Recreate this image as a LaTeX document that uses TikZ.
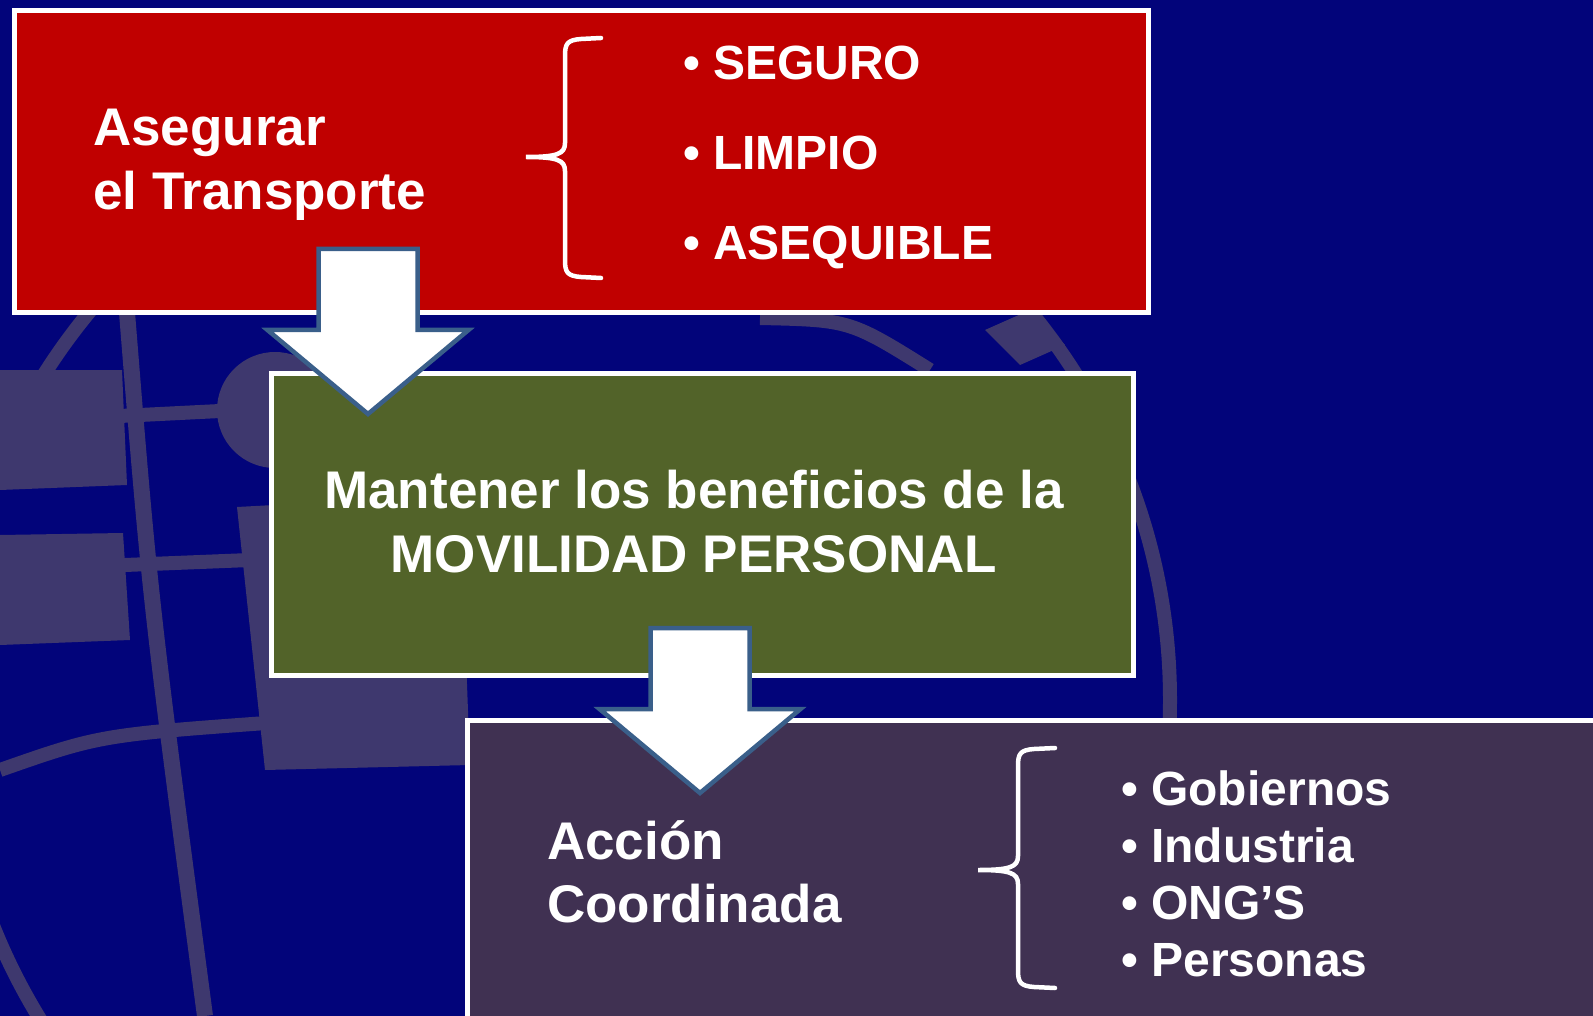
\documentclass[tikz,border=0pt]{standalone}
\usepackage{fontspec}
\setmainfont{Liberation Sans}
\usepackage{tikz}
\usetikzlibrary{calc}
\definecolor{fondo}{RGB}{2,4,122}
\definecolor{logo}{RGB}{62,56,110}
\definecolor{rojo}{RGB}{192,0,0}
\definecolor{oliva}{RGB}{82,99,41}
\definecolor{morado}{RGB}{64,49,82}
\definecolor{borde}{RGB}{58,95,138}
\tikzset{caja/.style={rectangle,draw=white,line width=5pt,anchor=north west,inner sep=0pt}}
\tikzset{flecha/.style={fill=white,draw=borde,line width=4.5pt}}
\tikzset{titulo/.style={text=white,inner sep=0pt,font=\fontsize{53}{64}\selectfont\bfseries}}
\tikzset{punto/.style={text=white,inner sep=0pt,anchor=base west,font=\fontsize{48}{57}\selectfont\bfseries}}
\tikzset{llave/.style={draw=white,line width=4.5pt,line cap=round}}

\begin{document}
\begin{tikzpicture}[x=1pt,y=-1pt]
\useasboundingbox (0,0) rectangle (1593,1016);
\clip (0,0) rectangle (1593,1016);
\fill[fondo] (0,0) rectangle (1593,1016);
% logo de fondo
\begin{scope}[logo]
\draw[line width=14pt] (560,700) circle (610pt);
\draw[line width=16pt] (126,300) .. controls (150,600) .. (205,1016);
\draw[line width=14pt] (0,422) -- (240,410);
\draw[line width=14pt] (0,570) -- (250,560);
\draw[line width=14pt] (0,770) .. controls (100,735) .. (280,722);
\fill (0,370) -- (122,370) -- (127,485) -- (0,490) -- cycle;
\fill (0,535) -- (123,533) -- (130,640) -- (0,645) -- cycle;
\fill (237,507) -- (460,495) -- (470,765) -- (265,770) -- cycle;
\fill (275,410) circle (58pt);
\draw[line width=14pt] (760,318) .. controls (850,320) .. (930,370);
\fill (985,330) -- (1030,310) -- (1065,345) -- (1020,365) -- cycle;
\end{scope}

% cajas
\node[caja,fill=rojo,minimum width=1134pt,minimum height=302pt] (asegurar) at (12,8) {};
\node[caja,fill=oliva,minimum width=862pt,minimum height=302pt] (mantener) at (269,371) {};
\node[caja,fill=morado,minimum width=1200pt,minimum height=400pt] (accion) at (465,718) {};

% flechas
\foreach \x/\y [count=\i] in {368/249, 700/628} {
	\coordinate (f\i) at (\x,\y);
	\draw[flecha] ($(f\i)+(-49.5,0)$) -- ++(0,81) -- ++(-51,0) -- ++(100.5,84) -- ++(100.5,-84) -- ++(-51,0) -- ++(0,-81) -- cycle;
}

% textos
\node[titulo,anchor=base west] (t1) at (93,146) {Asegurar};
\node[titulo,anchor=base west] (t2) at (93,210) {el Transporte};
\node[titulo,anchor=base] (m1) at (694,508) {Mantener los beneficios de la};
\node[titulo,anchor=base] (m2) at (694,572) {MOVILIDAD PERSONAL};
\node[titulo,anchor=base west] (c1) at (547,859) {Acción};
\node[titulo,anchor=base west] (c2) at (547,922) {Coordinada};

\foreach \t [count=\i] in {SEGURO,LIMPIO,ASEQUIBLE}
	\node[punto] (s\i) at (683,{80+90*(\i-1)}) {• \t};
\foreach \t [count=\i] in {Gobiernos,Industria,ONG’S,Personas}
	\node[punto] (g\i) at (1121,{805+57*(\i-1)}) {• \t};

% llaves
\foreach \tx/\vx/\ex/\yt/\ym/\yb in {526/565/601/38/157/278, 978/1018/1055/748/870/988}
	\draw[llave] (\ex,\yt) -- (\vx+16,\yt+1) .. controls (\vx+2,\yt+2) and (\vx,\yt+6) .. (\vx,\yt+18) -- (\vx,\ym-14) .. controls (\vx,\ym-3) and (\vx-8,\ym) .. (\tx,\ym) .. controls (\vx-8,\ym) and (\vx,\ym+3) .. (\vx,\ym+14) -- (\vx,\yb-18) .. controls (\vx,\yb-6) and (\vx+2,\yb-2) .. (\vx+16,\yb-1) -- (\ex,\yb);
\end{tikzpicture}
\end{document}
